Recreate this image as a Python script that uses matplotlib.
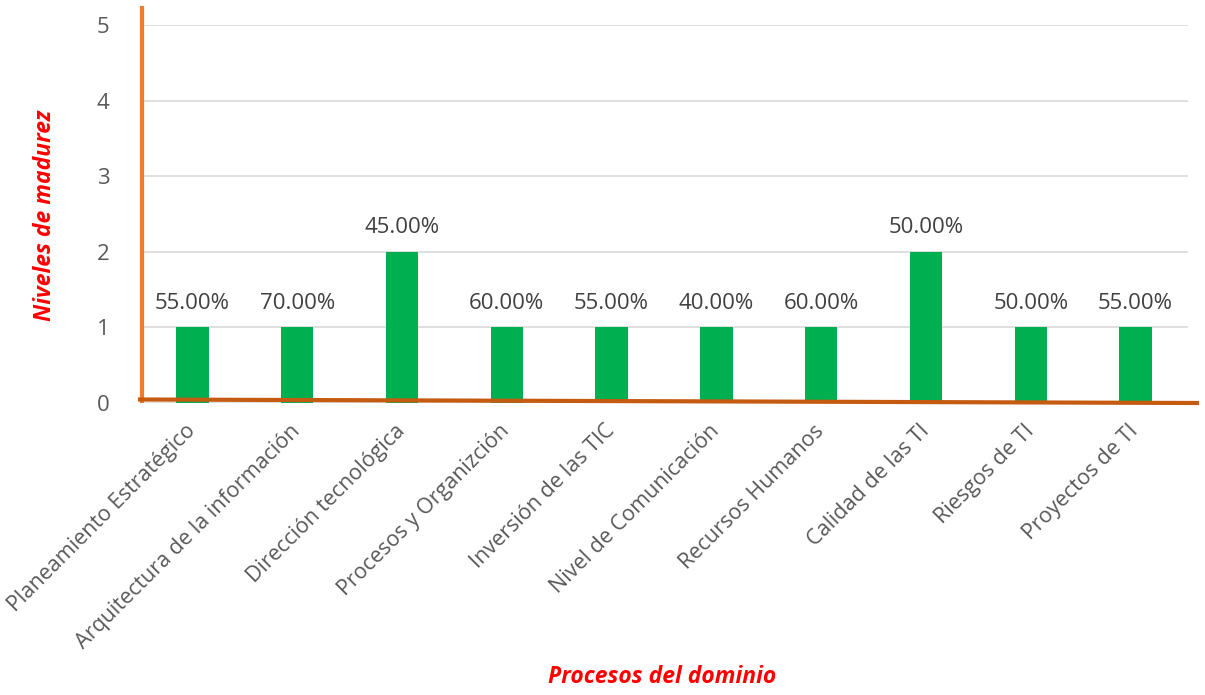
import matplotlib.pyplot as plt
from matplotlib.lines import Line2D

categories = [
    "Planeamiento Estratégico",
    "Arquitectura de la información",
    "Dirección tecnológica",
    "Procesos y Organizción",
    "Inversión de las TIC",
    "Nivel de Comunicación",
    "Recursos Humanos",
    "Calidad de las TI",
    "Riesgos de TI",
    "Proyectos de TI",
]
levels = [1, 1, 2, 1, 1, 1, 1, 2, 1, 1]
percent_labels = ["55.00%", "70.00%", "45.00%", "60.00%", "55.00%",
                  "40.00%", "60.00%", "50.00%", "50.00%", "55.00%"]
y_ticks = [0, 1, 2, 3, 4, 5]

plt.rcParams['font.family'] = ['Open Sans', 'DejaVu Sans']

fig = plt.figure(figsize=(12.05, 6.95), dpi=100)
ax = fig.add_axes([140 / 1205, 1 - 403 / 695, (1188 - 140) / 1205, (403 - 25) / 695])

x = list(range(len(categories)))
ax.bar(x, levels, width=0.31, color="#00B050", zorder=3)

for xi, val, lab in zip(x, levels, percent_labels):
    ax.annotate(lab, (xi, val), xytext=(0, 10), textcoords="offset points",
                ha="center", va="bottom", fontsize=16, color="#404040")

ax.set_xlim(-0.5, len(categories) - 0.5)
ax.set_ylim(0, 5)
ax.set_yticks(y_ticks)
ax.set_yticklabels([str(t) for t in y_ticks], fontsize=16, color="#595959")
ax.grid(axis="y", color="#D9D9D9", linewidth=1.2, zorder=0)
ax.set_xticks(x)
ax.set_xticklabels(categories, rotation=45, ha="right", va="center",
                   rotation_mode="anchor", fontsize=15.5, color="#595959")
ax.tick_params(axis="both", length=0)
ax.tick_params(axis="y", pad=22)
ax.tick_params(axis="x", pad=18)
for s in ax.spines.values():
    s.set_visible(False)

# vertical axis line, extending a little above the top gridline
fig.add_artist(Line2D([142 / 1205, 142 / 1205], [1 - 401 / 695, 1 - 8 / 695],
                      color="#ED7D31", linewidth=3, zorder=5))
# slightly tilted baseline
fig.add_artist(Line2D([140 / 1205, 1197 / 1205], [1 - 399.5 / 695, 1 - 403 / 695],
                      color="#C55A11", linewidth=3, zorder=5))

fig.text(45 / 1205, 1 - 215 / 695, "Niveles de madurez", rotation=90,
         ha="center", va="center", fontsize=16.5, color="#FF0000",
         fontweight="bold", fontstyle="italic")
fig.text(662 / 1205, 1 - 677 / 695, "Procesos del dominio",
         ha="center", va="center", fontsize=16.5, color="#FF0000",
         fontweight="bold", fontstyle="italic")

fig.savefig("out.png", dpi=100, facecolor="white")
